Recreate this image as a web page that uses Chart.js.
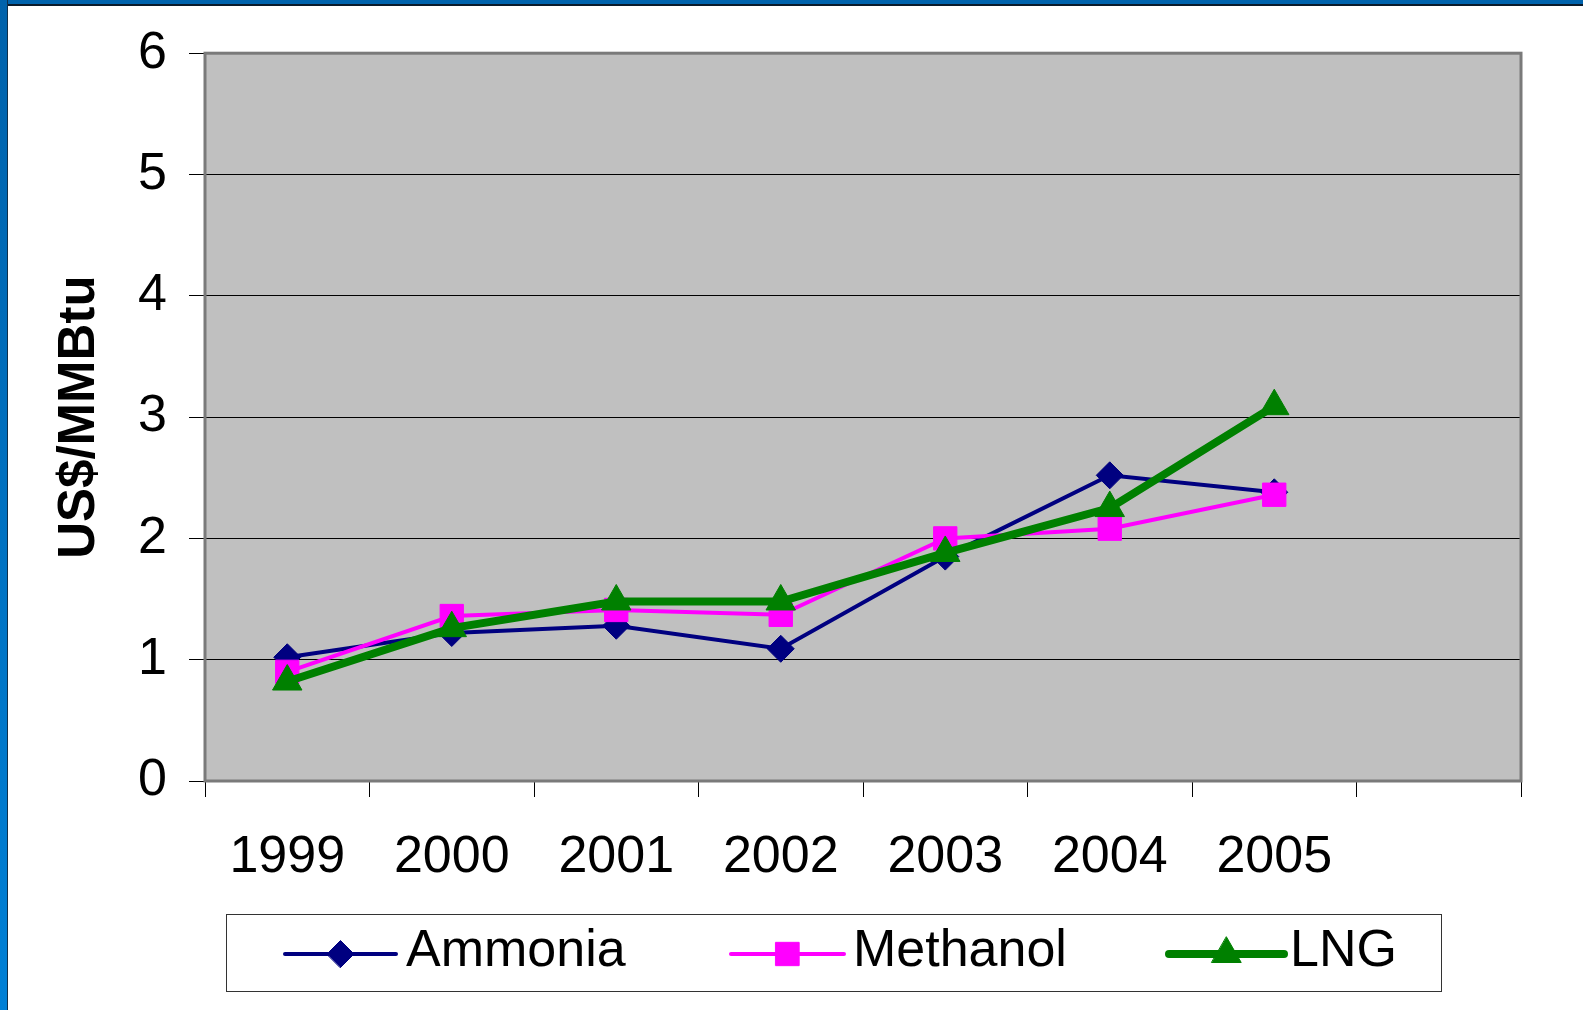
<!DOCTYPE html>
<html>
<head>
<meta charset="utf-8">
<script src="https://cdn.jsdelivr.net/npm/chart.js@4.4.0/dist/chart.umd.min.js"></script>
<style>
  html, body { margin: 0; padding: 0; background: #fff; overflow: hidden; }
  #wrap { position: relative; width: 1583px; height: 1010px; }
  #topBar { position: absolute; left: 0; top: 0; width: 1583px; height: 4px; background: #0063ad; border-bottom: 2px solid #0b1b2b; }
  #leftBar { position: absolute; left: 0; top: 0; width: 7px; height: 1010px; background: linear-gradient(to bottom, #0062ab, #0080d6); border-right: 1px solid #10304a; }
</style>
</head>
<body>
<div id="wrap">
  <canvas id="myChart" width="1583" height="1010"></canvas>
  <div id="topBar"></div>
  <div id="leftBar"></div>
</div>
<script>
'use strict';

// categories (the last slot is empty in the original)
var years = ['1999', '2000', '2001', '2002', '2003', '2004', '2005', ''];
var yTicks = [0, 1, 2, 3, 4, 5, 6];

// US$/MMBtu
var ammonia = [1.02, 1.22, 1.28, 1.09, 1.85, 2.52, 2.38];
var methanol = [0.90, 1.36, 1.41, 1.37, 2.00, 2.08, 2.36];
var lng = [0.82, 1.26, 1.48, 1.48, 1.88, 2.25, 3.09];

var FONT = "'Liberation Sans', Arial, sans-serif";

// grey plot area with its frame
var plotArea = {
  id: 'plotArea',
  beforeDraw: function (chart) {
    var a = chart.chartArea, c = chart.ctx;
    c.save();
    c.fillStyle = '#c0c0c0';
    c.fillRect(a.left, a.top, a.right - a.left, a.bottom - a.top);
    c.restore();
  },
  beforeDatasetsDraw: function (chart) {
    var a = chart.chartArea, c = chart.ctx;
    c.save();
    c.strokeStyle = '#7a7a7a';
    c.lineWidth = 3;
    c.strokeRect(a.left, a.top, a.right - a.left, a.bottom - a.top);
    c.restore();
  }
};

// legend in a box under the axis, line + marker like the original
var boxLegend = {
  id: 'boxLegend',
  afterDraw: function (chart) {
    var c = chart.ctx;
    var items = [
      { x1: 285, x2: 396, tx: 406 },
      { x1: 731, x2: 844, tx: 853 },
      { x1: 1169, x2: 1284, tx: 1290 }
    ];
    var ly = 954;
    c.save();
    c.strokeStyle = '#333';
    c.lineWidth = 1;
    c.strokeRect(226.5, 914.5, 1215, 77);
    chart.data.datasets.forEach(function (ds, i) {
      var it = items[i];
      c.strokeStyle = ds.borderColor;
      c.lineWidth = ds.borderWidth;
      c.lineCap = 'round';
      c.beginPath();
      c.moveTo(it.x1, ly);
      c.lineTo(it.x2, ly);
      c.stroke();
      c.fillStyle = ds.pointBackgroundColor;
      c.strokeStyle = ds.borderColor;
      c.lineWidth = 1;
      Chart.helpers.drawPoint(c, { pointStyle: ds.pointStyle, radius: ds.pointRadius, rotation: 0, borderWidth: 1 }, (it.x1 + it.x2) / 2, ly);
      c.fillStyle = '#000';
      c.font = '52px ' + FONT;
      c.textBaseline = 'alphabetic';
      c.fillText(ds.label, it.tx, 966);
    });
    c.restore();
  }
};

var ctx = document.getElementById('myChart').getContext('2d');
var chart = new Chart(ctx, {
  type: 'line',
  data: {
    labels: years,
    datasets: [
      {
        label: 'Ammonia',
        data: ammonia,
        borderColor: '#000080',
        backgroundColor: '#000080',
        pointBackgroundColor: '#000080',
        borderWidth: 4,
        pointStyle: 'rectRot',
        pointRadius: 13.5,
        pointBorderWidth: 1,
        tension: 0,
        order: 2
      },
      {
        label: 'Methanol',
        data: methanol,
        borderColor: '#ff00ff',
        backgroundColor: '#ff00ff',
        pointBackgroundColor: '#ff00ff',
        borderWidth: 4,
        pointStyle: 'rect',
        pointRadius: 16.5,
        pointBorderWidth: 1,
        tension: 0,
        order: 1
      },
      {
        label: 'LNG',
        data: lng,
        borderColor: '#008000',
        backgroundColor: '#008000',
        pointBackgroundColor: '#008000',
        borderWidth: 8,
        pointStyle: 'triangle',
        pointRadius: 17,
        pointBorderWidth: 1,
        tension: 0,
        order: 0
      }
    ]
  },
  options: {
    responsive: false,
    animation: false,
    layout: { padding: { left: 0, top: 53, right: 62, bottom: 0 } },
    plugins: {
      legend: { display: false },
      tooltip: { enabled: false },
      title: { display: false }
    },
    scales: {
      x: {
        type: 'category',
        offset: true,
        afterFit: function (scale) { scale.height = 229; },
        grid: {
          offset: true,
          drawOnChartArea: false,
          drawTicks: true,
          tickLength: 16,
          color: '#000',
          lineWidth: 1
        },
        border: { display: false },
        ticks: {
          color: '#000',
          font: { family: FONT, size: 52 },
          padding: 29,
          maxRotation: 0,
          autoSkip: false
        }
      },
      y: {
        min: 0,
        max: 6,
        afterFit: function (scale) { scale.width = 205; },
        afterBuildTicks: function (scale) {
          scale.ticks = yTicks.map(function (v) { return { value: v }; });
        },
        grid: {
          color: '#000',
          lineWidth: 1,
          drawTicks: true,
          tickLength: 16
        },
        border: { display: false },
        ticks: {
          color: '#000',
          font: { family: FONT, size: 52 },
          padding: 22
        },
        title: {
          display: true,
          text: 'US$/MMBtu',
          color: '#000',
          font: { family: FONT, size: 51, weight: 'bold' },
          padding: { top: 49, bottom: 0 }
        }
      }
    }
  },
  plugins: [plotArea, boxLegend]
});
</script>
</body>
</html>
